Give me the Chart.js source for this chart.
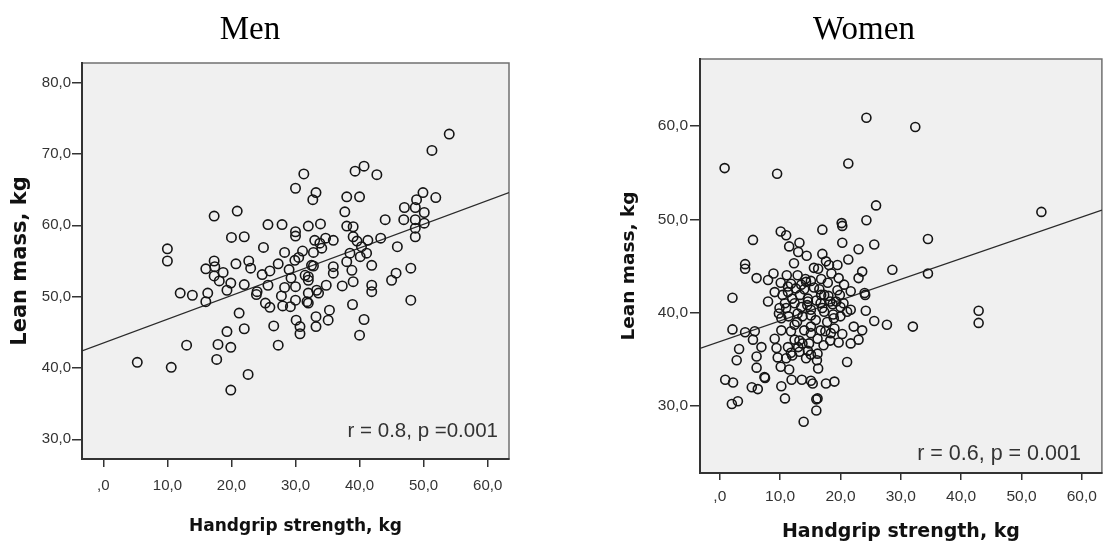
<!DOCTYPE html>
<html>
<head>
<meta charset="utf-8">
<script src="https://cdn.jsdelivr.net/npm/chart.js@4.4.1/dist/chart.umd.min.js"></script>
<style>
  html, body { margin: 0; padding: 0; background: #fff; overflow: hidden; width: 1107px; height: 543px; }
  canvas { position: absolute; top: 0; }
  #men { left: 0; }
  #women { left: 555px; }
</style>
</head>
<body>
<canvas id="men" width="540" height="543"></canvas>
<canvas id="women" width="553" height="543"></canvas>
<script>
// Men: handgrip strength (kg) vs lean mass (kg)
const menGrip = [5.3,10.6,10.0,10.0,12.0,13.0,13.9,16.0,16.0,16.3,
  17.3,17.3,17.4,17.3,18.1,17.7,17.9,18.7,19.3,19.3,
  19.9,19.9,19.9,20.0,20.7,20.9,21.2,22.0,22.0,22.0,
  22.6,22.7,23.0,23.9,24.0,24.8,25.0,25.3,25.7,25.7,
  26.0,26.0,26.6,27.3,27.3,27.9,27.8,28.0,28.3,28.3,
  29.0,29.2,29.3,29.9,30.0,30.0,30.0,30.0,30.0,30.1,
  30.5,30.7,30.7,31.1,31.3,31.5,31.8,32.0,32.0,32.0,
  32.0,32.0,32.5,32.7,33.2,32.8,32.8,33.0,33.2,33.2,
  33.3,33.6,33.8,33.9,34.1,34.7,34.8,35.1,35.3,35.9,
  35.9,35.9,37.3,37.7,38.0,38.0,38.0,38.5,38.8,38.9,
  39.0,39.0,39.0,39.3,39.6,40.0,40.0,40.1,40.3,40.7,
  40.7,41.1,41.3,41.9,41.9,41.9,42.7,43.3,44.0,45.0,
  45.7,45.9,46.9,47.0,48.0,48.0,48.7,48.7,48.7,48.7,
  48.9,49.9,50.1,50.1,51.3,51.9,54.0];
const menLean = [40.8,40.1,56.7,55.0,50.5,43.2,50.2,53.9,49.3,50.5,
  61.3,55.0,54.2,52.9,52.2,41.2,43.3,53.4,50.9,45.1,
  51.9,42.9,36.9,58.3,54.6,62.0,47.7,58.4,51.7,45.5,
  39.1,55.0,54.0,50.3,50.7,53.1,56.9,49.1,60.1,51.6,
  53.6,48.5,45.9,54.6,43.2,60.1,50.1,48.7,56.2,51.3,
  53.8,48.6,52.6,55.1,59.1,58.5,51.4,49.5,65.2,46.7,
  55.5,45.8,44.8,56.4,67.2,53.0,49.3,59.9,52.3,50.5,
  49.1,52.8,54.4,63.6,64.6,56.2,54.3,57.9,47.2,45.8,
  50.9,50.5,57.5,60.2,56.8,58.2,51.6,46.7,48.1,57.9,
  54.2,53.3,51.5,61.9,64.0,59.9,54.9,56.1,53.7,48.9,
  59.8,58.4,52.1,67.6,57.8,64.0,44.6,55.6,57.0,68.3,
  46.8,56.1,57.9,54.4,51.6,50.7,67.1,58.2,60.8,52.3,
  53.3,57.0,60.8,62.5,54.0,49.5,62.5,60.8,59.6,58.4,
  63.6,64.6,61.8,60.3,70.5,63.9,72.8];

// Women
const womenGrip = [0.8,9.5,24.3,32.4,21.3,25.9,24.3,20.3,20.2,17.0,
  10.1,11.0,5.5,20.3,25.6,23.0,11.5,13.2,13.0,14.4,
  17.0,21.3,12.3,4.2,4.2,6.1,8.0,8.9,11.1,12.9,
  15.6,16.3,17.6,18.1,19.5,18.5,19.7,23.6,23.0,28.6,
  34.5,34.5,53.3,2.1,10.1,11.8,13.5,15.1,16.5,17.9,
  20.6,21.7,24.0,24.1,9.1,11.3,13.3,15.6,19.5,8.0,
  2.1,4.2,5.8,5.5,6.9,3.2,2.8,6.1,6.1,7.4,
  0.9,2.2,5.3,6.3,10.2,10.8,11.9,13.6,15.1,15.4,
  17.6,19.0,16.2,2.0,3.0,10.1,9.6,9.4,9.1,10.2,
  11.8,12.0,11.5,13.2,14.6,16.2,16.1,16.3,14.3,12.4,
  13.2,15.1,16.2,21.1,19.7,20.3,21.7,23.0,22.2,23.6,
  25.6,27.7,24.2,21.7,20.0,17.8,15.1,12.4,10.2,11.0,
  13.5,15.1,17.0,18.7,11.4,13.7,15.9,42.9,42.9,32.0,
  13.9,16.0,16.0,7.5,12.0,14.0,16.0,18.0,14.5,17.5,
  19.0,12.8,16.8,19.3,10.8,14.8,18.3,13.0,20.5,17.2,
  9.8,14.2,18.8,12.6,9.9,12.4,14.6,16.7,20.0,21.1,
  12.9,15.1,17.3,18.9,11.8,14.0,16.7,18.4,11.3,13.7,
  15.1,11.0,10.4,14.6,17.3,18.3,11.3,14.3,16.8,19.9];
const womenLean = [55.5,54.9,60.9,59.9,56.0,51.5,49.9,49.3,49.6,48.9,
  48.7,48.3,47.8,47.5,47.3,46.8,47.1,47.5,46.5,46.1,
  46.3,45.7,45.3,45.2,44.7,43.7,43.5,44.2,44.0,44.0,
  44.8,44.7,45.5,45.1,45.1,44.2,43.7,44.4,43.7,44.6,
  47.9,44.2,50.8,41.6,43.2,43.1,43.0,43.4,42.5,43.2,
  43.0,42.3,42.1,41.9,42.2,42.2,41.9,42.7,42.4,41.2,
  38.2,37.9,38.0,37.1,36.3,36.1,34.9,35.3,34.1,33.1,
  32.8,32.5,32.0,31.8,32.1,30.8,32.8,32.8,32.7,32.4,
  32.4,32.6,30.8,30.2,30.5,34.2,35.2,36.2,37.2,38.1,
  35.7,35.4,33.9,35.8,35.9,35.6,34.9,34.0,35.1,37.1,
  37.0,37.8,37.2,34.7,36.8,37.7,36.7,37.1,38.5,38.1,
  39.1,38.7,40.2,40.3,39.6,39.0,38.5,38.7,39.4,40.5,
  40.6,40.3,40.5,40.9,39.6,39.6,39.2,40.2,38.9,38.5,
  28.3,29.5,30.7,33.0,41.5,42.5,41.3,41.8,40.8,38.0,
  38.3,39.0,41.9,41.2,41.0,36.7,37.0,36.3,41.0,36.5,
  39.9,43.6,39.8,42.6,40.5,41.0,41.2,41.0,40.6,40.1,
  39.9,39.7,40.1,39.4,38.0,38.1,38.1,37.8,36.3,36.7,
  35.5,35.1,41.9,41.5,41.9,41.2,42.8,43.3,43.6,41.9];

// fit lines: [intercept, slope]
const menFit = [43.5, 0.333];
const womenFit = [36.9, 0.2225];

const xTickValues = [0, 10, 20, 30, 40, 50, 60];
const xTickLabels = [',0', '10,0', '20,0', '30,0', '40,0', '50,0', '60,0'];
const menYTickValues = [30, 40, 50, 60, 70, 80];
const menYTickLabels = ['30,0', '40,0', '50,0', '60,0', '70,0', '80,0'];
const womenYTickValues = [30, 40, 50, 60];
const womenYTickLabels = ['30,0', '40,0', '50,0', '60,0'];

const panelTitles = ['Men', 'Women'];
const statsText = ['r = 0.8, p =0.001', 'r = 0.6, p = 0.001'];

// background, frame, title and stats text
const panelDecor = {
  id: 'panelDecor',
  beforeDraw(chart, args, o) {
    const { ctx, chartArea: a } = chart;
    ctx.save();
    ctx.fillStyle = '#f0f0f0';
    ctx.fillRect(a.left, a.top, a.right - a.left, a.bottom - a.top);
    ctx.strokeStyle = '#707070';
    ctx.lineWidth = 1.5;
    ctx.strokeRect(a.left, a.top, a.right - a.left, a.bottom - a.top);
    ctx.restore();
  },
  afterDraw(chart, args, o) {
    const { ctx, chartArea: a } = chart;
    ctx.save();
    ctx.fillStyle = '#000';
    ctx.font = '33px "Liberation Serif", "Times New Roman", serif';
    ctx.textAlign = 'center';
    ctx.textBaseline = 'alphabetic';
    ctx.fillText(o.title, o.titleX, 39);
    ctx.fillStyle = '#333';
    ctx.font = o.statsSize + 'px "Liberation Sans", Arial, sans-serif';
    ctx.textAlign = 'right';
    ctx.fillText(o.stats, a.right - o.statsDx, a.bottom - o.statsDy);
    ctx.restore();
  }
};

function makeChart(id, grip, lean, fit, xr, yr, yTicks, yLabels, s) {
  const pts = grip.map((g, i) => ({ x: g, y: lean[i] }));
  const line = [xr[0], xr[1]].map(x => ({ x: x, y: fit[0] + fit[1] * x }));
  const tickFont = { family: '"Liberation Sans", Arial, sans-serif', size: s.tickSize };
  return new Chart(document.getElementById(id), {
    type: 'scatter',
    data: {
      datasets: [{
        data: pts,
        pointStyle: 'circle',
        pointRadius: s.radius,
        backgroundColor: 'rgba(0,0,0,0)',
        borderColor: '#151515',
        pointBorderWidth: 1.6
      }, {
        data: line,
        showLine: true,
        pointRadius: 0,
        borderColor: '#2a2a2a',
        borderWidth: 1.3
      }]
    },
    options: {
      responsive: false,
      animation: false,
      events: [],
      layout: { padding: { top: s.top, right: s.right, left: 0, bottom: 0 } },
      plugins: {
        legend: { display: false },
        tooltip: { enabled: false },
        panelDecor: s.decor
      },
      scales: {
        x: {
          type: 'linear',
          min: xr[0], max: xr[1],
          afterBuildTicks: sc => { sc.ticks = xTickValues.map(v => ({ value: v })); },
          afterFit: sc => { sc.height = s.xHeight; },
          ticks: {
            callback: (v, i) => xTickLabels[i],
            font: tickFont, color: '#333', padding: s.xPad, maxRotation: 0
          },
          grid: { display: true, drawOnChartArea: false, drawTicks: true, tickLength: s.xTick, color: '#333', lineWidth: 1.5 },
          border: { display: true, color: '#333', width: 2 },
          title: {
            display: true, text: 'Handgrip strength, kg', color: '#111',
            font: { family: '"DejaVu Sans", Verdana, sans-serif', size: s.xTitleSize, weight: 'bold' },
            padding: { top: 0, bottom: s.xTitlePad }
          }
        },
        y: {
          type: 'linear',
          min: yr[0], max: yr[1],
          afterBuildTicks: sc => { sc.ticks = yTicks.map(v => ({ value: v })); },
          afterFit: sc => { sc.width = s.yWidth; },
          ticks: {
            callback: (v, i) => yLabels[i],
            font: tickFont, color: '#333', padding: s.yPad
          },
          grid: { display: true, drawOnChartArea: false, drawTicks: true, tickLength: 10, color: '#333', lineWidth: 1.5 },
          border: { display: true, color: '#333', width: 2 },
          title: {
            display: true, text: 'Lean mass, kg', color: '#111',
            font: { family: '"DejaVu Sans", Verdana, sans-serif', size: s.yTitleSize, weight: 'bold' },
            padding: { top: s.yTitlePad, bottom: 0 }
          }
        }
      }
    },
    plugins: [panelDecor]
  });
}

makeChart('men', menGrip, menLean, menFit, [-3.33, 63.33], [27.24, 82.76],
  menYTickValues, menYTickLabels, {
    radius: 4.7, tickSize: 15, top: 63, right: 31, xHeight: 84, yWidth: 82,
    xPad: 10, xTick: 8, yPad: 1, xTitleSize: 17, xTitlePad: 6, yTitleSize: 21, yTitlePad: 8,
    decor: { title: panelTitles[0], titleX: 250, stats: statsText[0], statsSize: 20.5, statsDx: 11, statsDy: 22 }
  });

makeChart('women', womenGrip, womenLean, womenFit, [-3.28, 63.33], [22.8, 67.2],
  womenYTickValues, womenYTickLabels, {
    radius: 4.5, tickSize: 15.5, top: 59, right: 2, xHeight: 70, yWidth: 145,
    xPad: 7, xTick: 7, yPad: 2, xTitleSize: 19, xTitlePad: 0, yTitleSize: 18.5, yTitlePad: 63,
    decor: { title: panelTitles[1], titleX: 309, stats: statsText[1], statsSize: 21.5, statsDx: 21, statsDy: 13 }
  });
</script>
</body>
</html>
